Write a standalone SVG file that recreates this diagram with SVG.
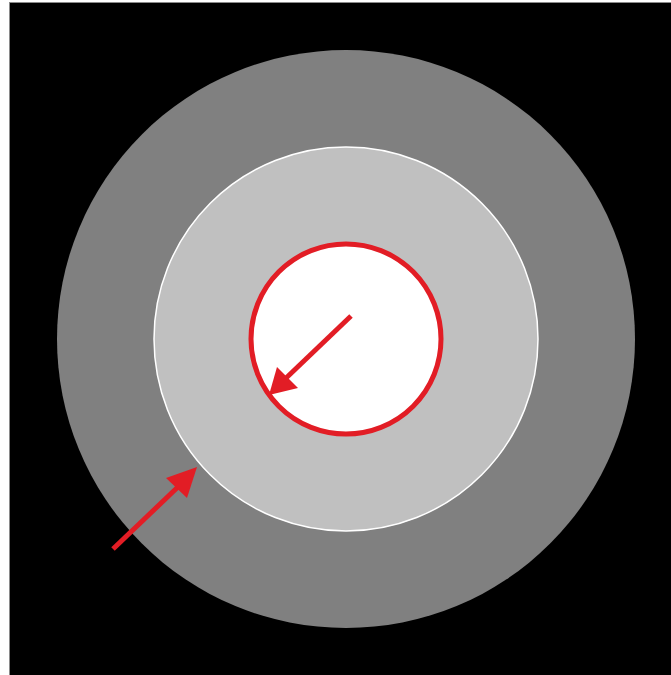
<svg xmlns="http://www.w3.org/2000/svg" width="671" height="675" viewBox="0 0 671 675">
<style>
.arrow{stroke:#e21d25;stroke-width:5;fill:none}
.head{fill:#e21d25}
</style>
<rect x="0" y="0" width="671" height="675" fill="#fff"/>
<rect x="9.5" y="2.5" width="665" height="676" fill="#000" stroke="#8a8a8a" stroke-width="1"/>
<g id="outer"><circle cx="346" cy="339" r="289" fill="#808080"/></g>
<g id="middle"><circle cx="346" cy="339" r="192" fill="#c0c0c0" stroke="#fff" stroke-width="1.5"/></g>
<g id="inner"><circle cx="346" cy="339" r="95" fill="#fff" stroke="#e21d25" stroke-width="5"/></g>
<g id="connectors">
<line class="arrow" x1="351" y1="316" x2="284" y2="380"/>
<polygon class="head" points="269,395 277,367 298,388"/>
<line class="arrow" x1="113" y1="549" x2="180" y2="485"/>
<polygon class="head" points="197,467 166,478 187,498"/>
</g>
</svg>
